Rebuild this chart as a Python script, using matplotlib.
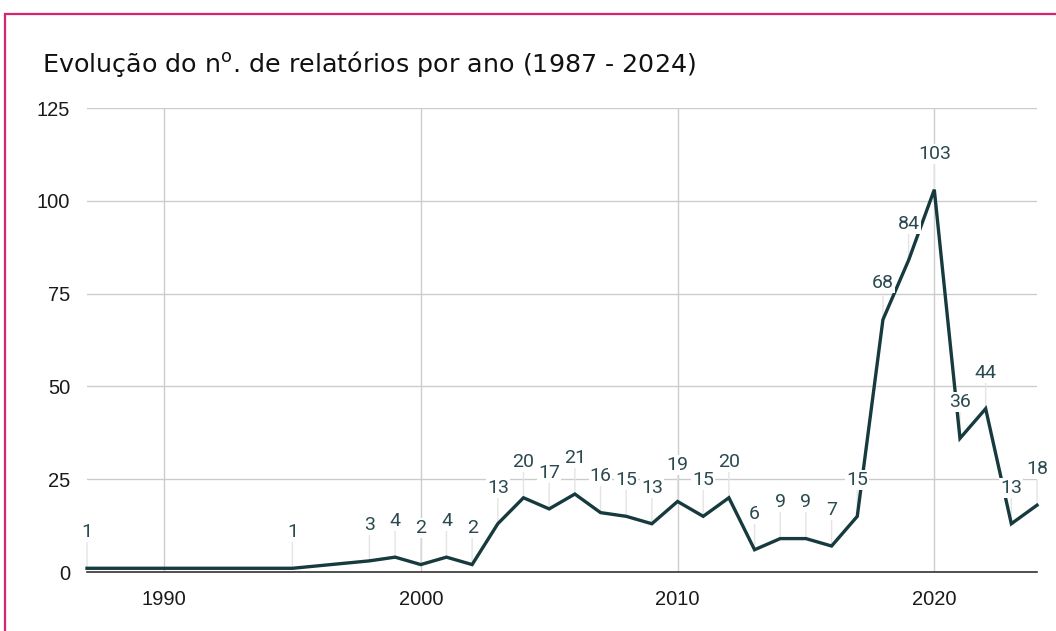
import matplotlib
matplotlib.use("Agg")
import matplotlib.pyplot as plt
from matplotlib.patches import Rectangle

years = [1987, 1995, 1998, 1999, 2000, 2001, 2002, 2003, 2004, 2005, 2006, 2007, 2008,
         2009, 2010, 2011, 2012, 2013, 2014, 2015, 2016, 2017, 2018, 2019, 2020, 2021,
         2022, 2023, 2024]
reports = [1, 1, 3, 4, 2, 4, 2, 13, 20, 17, 21, 16, 15, 13, 19, 15, 20, 6, 9, 9, 7, 15,
           68, 84, 103, 36, 44, 13, 18]
x_ticks = [1990, 2000, 2010, 2020]
y_ticks = [0, 25, 50, 75, 100, 125]
title = r"Evolução do n$^{\mathrm{o}}$. de relatórios por ano (1987 - 2024)"

plt.rcParams["mathtext.fontset"] = "dejavusans"

W, H = 1056, 631
fig = plt.figure(figsize=(W / 100, H / 100), dpi=100)
fig.patch.set_facecolor("white")

# pink frame
fig.patches.append(Rectangle((4.5 / W, -0.1), 1.2, (H - 13.5) / H + 0.1,
                             transform=fig.transFigure, fill=False,
                             edgecolor="#d6246e", linewidth=1.6))

ax = fig.add_axes([87 / W, (H - 572) / H, (1037 - 87) / W, (572 - 108) / H])
ax.set_xlim(1987, 2024)
ax.set_ylim(0, 125)

line_color = "#163a3e"
label_color = "#2a4a50"

ax.plot(years, reports, color=line_color, linewidth=2.4, zorder=5,
        solid_joinstyle="miter", clip_on=False)

for x, y in zip(years, reports):
    ax.annotate("", xy=(x, y), xytext=(0, 19), textcoords="offset points",
                arrowprops=dict(arrowstyle="-", color="#e4e4e4", lw=1.0,
                                shrinkA=0, shrinkB=0), zorder=3)
    ax.annotate(str(y), xy=(x, y), xytext=(0, 26), textcoords="offset points",
                ha="center", va="center", fontsize=14, family="Roboto",
                color=label_color, zorder=6, annotation_clip=False,
                bbox=dict(boxstyle="square,pad=0.05", fc="white", ec="none"))

ax.set_xticks(x_ticks)
ax.set_yticks(y_ticks)
ax.grid(True, color="#cccccc", linewidth=1.0, zorder=0)
ax.set_axisbelow(True)
for s in ["top", "right", "left"]:
    ax.spines[s].set_visible(False)
ax.spines["bottom"].set_color("#333333")
ax.spines["bottom"].set_linewidth(1.2)
ax.spines["bottom"].set_zorder(4)
ax.tick_params(axis="both", length=0, labelsize=14.5, labelcolor="#1a1a1a")
ax.tick_params(axis="x", pad=13)
ax.tick_params(axis="y", pad=12)
for lab in ax.get_xticklabels() + ax.get_yticklabels():
    lab.set_family("Liberation Sans")

fig.text(42 / W, 1 - 64 / H, title, ha="left", va="center", fontsize=18.3,
         family="DejaVu Sans", color="#111111")

fig.savefig("out.png", dpi=100)
